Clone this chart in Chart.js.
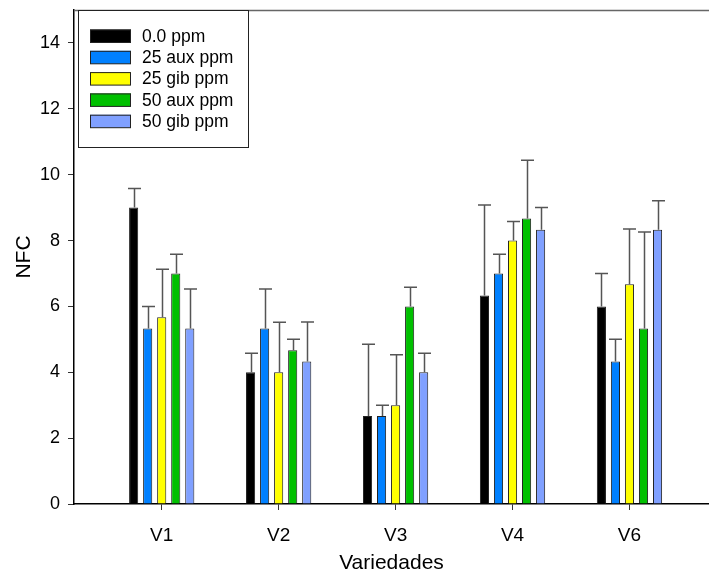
<!DOCTYPE html>
<html>
<head>
<meta charset="utf-8">
<script src="https://cdn.jsdelivr.net/npm/chart.js@4.4.1/dist/chart.umd.min.js"></script>
<style>
html,body{margin:0;padding:0;background:#fff;overflow:hidden;}
#wrap{width:709px;height:576px;}
</style>
</head>
<body>
<div id="wrap"><canvas id="c" width="709" height="576"></canvas></div>
<script>
const categories = ['V1', 'V2', 'V3', 'V4', 'V6'];
const seriesNames = ['0.0 ppm', '25 aux ppm', '25 gib ppm', '50 aux ppm', '50 gib ppm'];
const ppm0 = [9.0, 4.0, 2.67, 6.33, 6.0];
const aux25 = [5.33, 5.33, 2.67, 7.0, 4.33];
const gib25 = [5.67, 4.0, 3.0, 8.0, 6.67];
const aux50 = [7.0, 4.67, 6.0, 8.67, 5.33];
const gib50 = [5.33, 4.33, 4.0, 8.33, 8.33];
const ppm0Err = [0.58, 0.58, 2.18, 2.75, 1.0];
const aux25Err = [0.67, 1.2, 0.33, 0.58, 0.67];
const gib25Err = [1.46, 1.52, 1.53, 0.58, 1.68];
const aux50Err = [0.58, 0.33, 0.58, 1.77, 2.93];
const gib50Err = [1.2, 1.2, 0.58, 0.67, 0.88];
const yTicks = [0, 2, 4, 6, 8, 10, 12, 14];

const colors = ['#000000', '#0080ff', '#ffff00', '#00c000', '#80a0ff'];
const values = [ppm0, aux25, gib25, aux50, gib50];
const errors = [ppm0Err, aux25Err, gib25Err, aux50Err, gib50Err];

const datasets = values.map((vals, k) => ({
  label: seriesNames[k],
  data: vals.map((v, i) => ({ x: i + 1, y: v })),
  errs: errors[k],
  backgroundColor: colors[k],
  borderColor: '#222222',
  borderWidth: 1,
  categoryPercentage: 0.6,
  barPercentage: 0.65
}));

const errorBars = {
  id: 'errorBars',
  afterDatasetsDraw(chart) {
    const ctx = chart.ctx;
    const ys = chart.scales.y;
    ctx.save();
    ctx.strokeStyle = '#555555';
    ctx.lineWidth = 1.5;
    chart.data.datasets.forEach((ds, k) => {
      const meta = chart.getDatasetMeta(k);
      meta.data.forEach((el, i) => {
        const top = ys.getPixelForValue(ds.data[i].y + ds.errs[i]);
        const x = Math.round(el.x) + 0.5;
        ctx.beginPath();
        ctx.moveTo(x, el.y);
        ctx.lineTo(x, top);
        ctx.moveTo(x - 6.5, top);
        ctx.lineTo(x + 6.5, top);
        ctx.stroke();
      });
    });
    ctx.restore();
  }
};

const frameAndLegend = {
  id: 'frameAndLegend',
  afterDraw(chart) {
    const ctx = chart.ctx;
    const a = chart.chartArea;
    ctx.save();
    ctx.strokeStyle = '#666666';
    ctx.lineWidth = 1.5;
    ctx.beginPath();
    ctx.moveTo(a.left, a.top + 0.5);
    ctx.lineTo(a.right, a.top + 0.5);
    ctx.stroke();
    const bx = a.left + 4, by = a.top, bw = 170, bh = 137;
    ctx.fillStyle = '#ffffff';
    ctx.fillRect(bx, by, bw, bh);
    ctx.strokeStyle = '#222222';
    ctx.lineWidth = 1;
    ctx.strokeRect(bx + 0.5, by + 0.5, bw, bh);
    ctx.font = '17.5px "Liberation Sans", Arial, sans-serif';
    ctx.textBaseline = 'middle';
    chart.data.datasets.forEach((ds, k) => {
      const cy = by + 26 + k * 21.3;
      ctx.fillStyle = ds.backgroundColor;
      ctx.fillRect(bx + 12, cy - 6.5, 41, 13);
      ctx.strokeStyle = '#222222';
      ctx.strokeRect(bx + 12.5, cy - 6, 40, 12.5);
      ctx.fillStyle = '#000000';
      ctx.fillText(ds.label, bx + 64, cy + 1);
    });
    ctx.restore();
  }
};

new Chart(document.getElementById('c'), {
  type: 'bar',
  data: { datasets },
  options: {
    responsive: false,
    animation: false,
    layout: { padding: { top: 10, right: 0, left: 0, bottom: 0 } },
    plugins: { legend: { display: false }, tooltip: { enabled: false } },
    scales: {
      x: {
        type: 'linear',
        min: 0.25,
        max: 5.68,
        offset: false,
        afterBuildTicks(s) { s.ticks = categories.map((c, i) => ({ value: i + 1 })); },
        afterFit(s) { s.height = 72; s.paddingLeft = 0; s.paddingRight = 0; },
        ticks: {
          callback: (v) => categories[v - 1],
          color: '#000',
          font: { family: '"Liberation Sans", Arial, sans-serif', size: 19 },
          padding: 14,
          maxRotation: 0,
          autoSkip: false
        },
        grid: { display: true, drawOnChartArea: false, drawTicks: true, tickLength: 6, color: '#333', offset: false },
        border: { display: true, color: '#000', width: 1.5 },
        title: {
          display: true,
          text: 'Variedades',
          color: '#000',
          font: { family: '"Liberation Sans", Arial, sans-serif', size: 21 },
          padding: { top: 0, bottom: 0 }
        }
      },
      y: {
        min: 0,
        max: 15,
        afterBuildTicks(s) { s.ticks = yTicks.map(v => ({ value: v })); },
        afterFit(s) { s.width = 74; s.paddingTop = 0; s.paddingBottom = 0; },
        ticks: {
          color: '#000',
          font: { family: '"Liberation Sans", Arial, sans-serif', size: 18 },
          padding: 8
        },
        grid: { display: true, drawOnChartArea: false, drawTicks: true, tickLength: 6, color: '#333' },
        border: { display: true, color: '#000', width: 1.5 },
        title: {
          display: true,
          text: 'NFC',
          color: '#000',
          font: { family: '"Liberation Sans", Arial, sans-serif', size: 21 },
          padding: { top: 12, bottom: 0 }
        }
      }
    }
  },
  plugins: [errorBars, frameAndLegend]
});
</script>
</body>
</html>
